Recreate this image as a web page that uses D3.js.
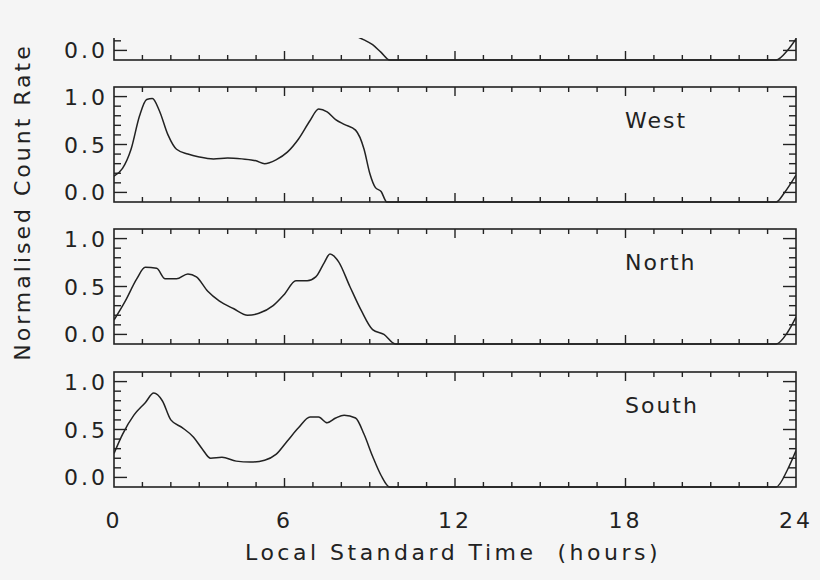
<!DOCTYPE html><html><head><script src="https://d3js.org/d3.v7.min.js"></script>
<style>body{margin:0;background:#f5f5f5}svg{display:block}</style></head><body><script>
const panelNames = ["", "West", "North", "South"];
const topSeries = [[8.5,0.15],[8.8,0.11],[9.1,0.06],[9.4,-0.02],[9.7,-0.1],[23.3,-0.1],[23.7,0.0],[24,0.12]];
const westSeries = [[0,0.17],[0.3,0.25],[0.6,0.45],[0.9,0.8],[1.15,0.97],[1.35,0.98],[1.6,0.85],[1.9,0.6],[2.2,0.45],[2.6,0.4],[3,0.37],[3.5,0.35],[4,0.36],[4.5,0.35],[5,0.33],[5.3,0.3],[5.7,0.34],[6.1,0.42],[6.5,0.56],[6.9,0.75],[7.2,0.87],[7.5,0.84],[7.8,0.76],[8.1,0.71],[8.5,0.65],[8.8,0.45],[9.0,0.2],[9.2,0.05],[9.4,0.01],[9.6,-0.1],[23.3,-0.1],[23.6,0.0],[24,0.18]];
const northSeries = [[0,0.15],[0.4,0.35],[0.8,0.58],[1.1,0.7],[1.5,0.69],[1.8,0.58],[2.2,0.58],[2.6,0.63],[2.9,0.6],[3.3,0.45],[3.7,0.35],[4.2,0.27],[4.7,0.2],[5.1,0.22],[5.6,0.3],[6,0.42],[6.4,0.56],[6.8,0.56],[7.1,0.6],[7.4,0.75],[7.6,0.84],[7.9,0.76],[8.3,0.5],[8.7,0.25],[9.1,0.05],[9.5,0.0],[9.9,-0.1],[23.3,-0.1],[23.7,0.02],[24,0.18]];
const southSeries = [[0,0.25],[0.3,0.45],[0.7,0.65],[1.1,0.78],[1.4,0.88],[1.7,0.8],[2,0.6],[2.4,0.52],[2.8,0.42],[3.1,0.3],[3.4,0.2],[3.8,0.21],[4.3,0.17],[4.8,0.16],[5.3,0.18],[5.7,0.24],[6.1,0.38],[6.5,0.52],[6.9,0.63],[7.2,0.63],[7.5,0.57],[7.8,0.62],[8.1,0.65],[8.5,0.62],[8.8,0.45],[9.1,0.22],[9.4,0.02],[9.7,-0.1],[23.3,-0.1],[23.7,0.08],[24,0.28]];
const seriesList = [topSeries, westSeries, northSeries, southSeries];
const xTicks = [0,6,12,18,24];
const yTicks = [0,0.5,1.0];

const W=820,H=580, x0=114, x1=796;
const svg=d3.select("body").append("svg").attr("width",W).attr("height",H);
svg.append("rect").attr("width",W).attr("height",H).attr("fill","#f5f5f5");
const x=d3.scaleLinear().domain([0,24]).range([x0,x1]);
const bottoms=[60,202,344,487];
const font="DejaVu Sans";
svg.append("clipPath").attr("id","page").append("rect").attr("x",0).attr("y",38).attr("width",W).attr("height",H);
bottoms.forEach((b,i)=>{
  const top=b-115;
  const y=d3.scaleLinear().domain([-0.1,1.1]).range([b,top]);
  const g=svg.append("g").attr("clip-path","url(#page)");
  const cid="c"+i;
  svg.append("clipPath").attr("id",cid).append("rect").attr("x",x0).attr("y",top).attr("width",x1-x0).attr("height",b-top+1);
  g.append("rect").attr("x",x0).attr("y",top).attr("width",x1-x0).attr("height",b-top).attr("fill","none").attr("stroke","#222").attr("stroke-width",1.6);
  d3.range(1,24).forEach(h=>{const L=h%6===0?9:5;
    g.append("line").attr("x1",x(h)).attr("x2",x(h)).attr("y1",b).attr("y2",b-L).attr("stroke","#222").attr("stroke-width",1.4);
    g.append("line").attr("x1",x(h)).attr("x2",x(h)).attr("y1",top).attr("y2",top+L).attr("stroke","#222").attr("stroke-width",1.4);});
  d3.range(0,11).forEach(k=>{const v=k/10,L=k%5===0?13:7;
    [[x0,1],[x1,-1]].forEach(([xx,s])=>g.append("line").attr("x1",xx).attr("x2",xx+s*L).attr("y1",y(v)).attr("y2",y(v)).attr("stroke","#222").attr("stroke-width",1.4));});
  yTicks.forEach(v=>{const yy=y(v); if(yy<10)return;
    g.append("text").attr("x",x0-6).attr("y",yy+8).attr("text-anchor","end").attr("font-family",font).attr("font-size",22).attr("letter-spacing",3).attr("fill","#222").text(v.toFixed(1));});
  g.append("path").datum(seriesList[i]).attr("clip-path",`url(#${cid})`).attr("fill","none").attr("stroke","#222").attr("stroke-width",1.5)
    .attr("d",d3.line().x(d=>x(d[0])).y(d=>y(d[1])).curve(d3.curveMonotoneX));
  if(panelNames[i]) g.append("text").attr("x",625).attr("y",top+41).attr("font-family",font).attr("font-size",22).attr("letter-spacing",2).attr("fill","#222").text(panelNames[i]);
});
xTicks.forEach(t=>svg.append("text").attr("x",x(t)).attr("y",528).attr("text-anchor","middle").attr("font-family",font).attr("font-size",22).attr("letter-spacing",3).attr("fill","#222").text(t));
svg.append("text").attr("x",453).attr("y",560).attr("text-anchor","middle").attr("font-family",font).attr("font-size",22).attr("letter-spacing",3.5).attr("fill","#222").style("white-space","pre").text("Local Standard Time  (hours)");
svg.append("text").attr("transform","translate(30,202) rotate(-90)").attr("text-anchor","middle").attr("font-family",font).attr("font-size",22).attr("letter-spacing",3).attr("fill","#222").text("Normalised Count Rate");
</script></body></html>
